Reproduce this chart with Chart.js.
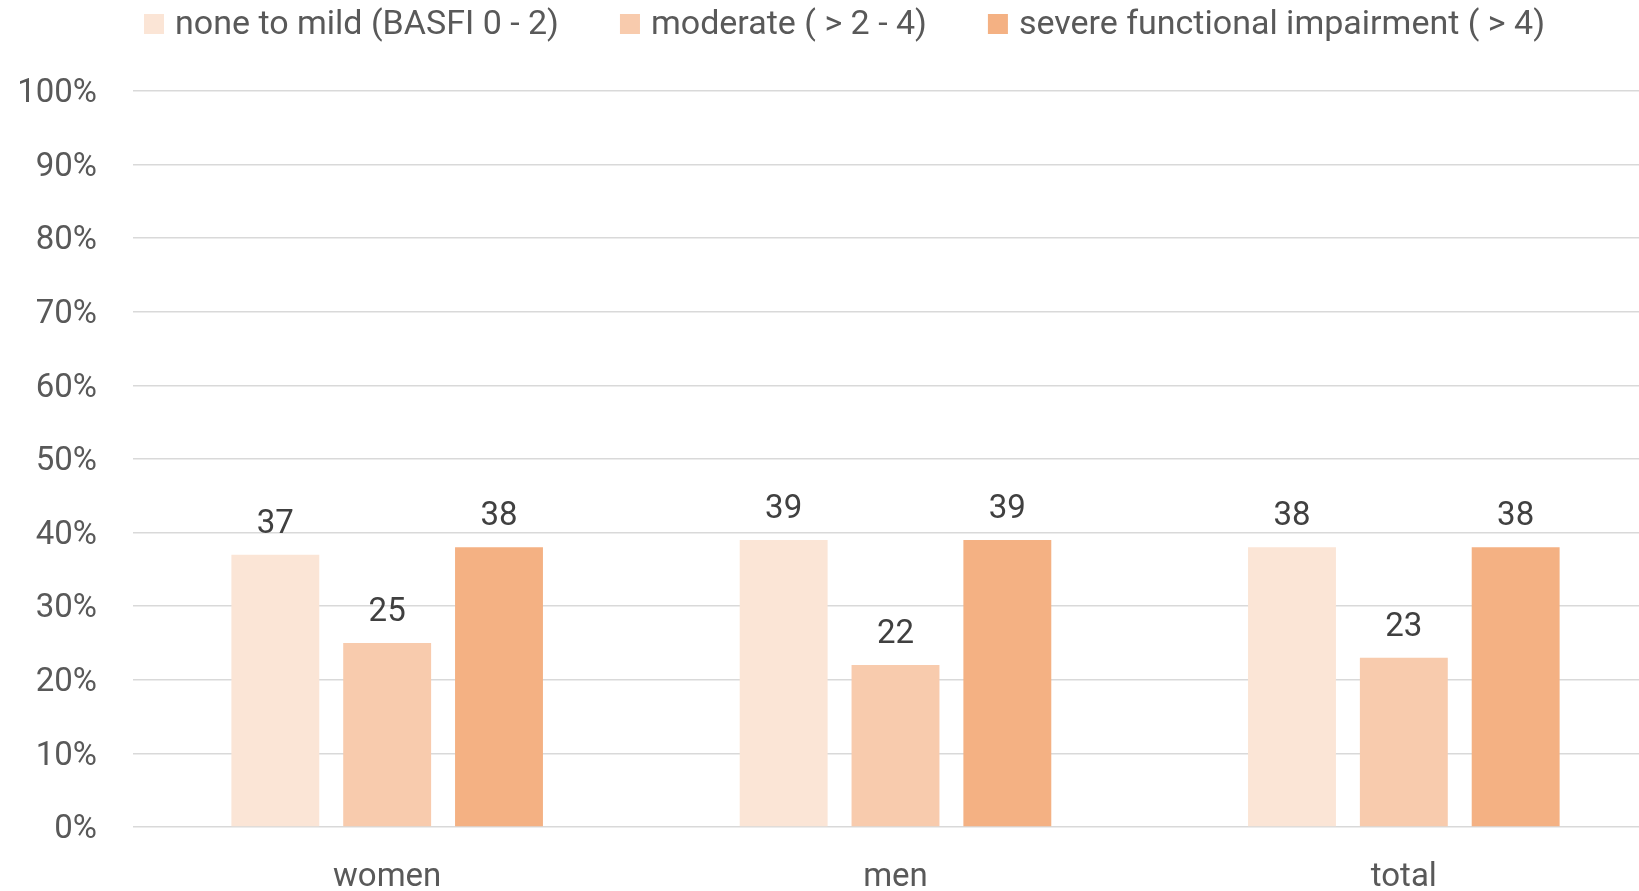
<!DOCTYPE html>
<html>
<head>
<meta charset="utf-8">
<script src="https://cdn.jsdelivr.net/npm/chart.js@4/dist/chart.umd.min.js"></script>
<style>
  html, body { margin: 0; padding: 0; background: #fff; overflow: hidden; }
  /* the plot runs a little past the right edge of the window */
  #holder { width: 1658px; height: 891px; position: relative; }
</style>
</head>
<body>
<div id="holder"><canvas id="chart-area-1"></canvas></div>
<script>

var groups      = ["women", "men", "total"];
var series      = ["none to mild (BASFI 0 - 2)", "moderate ( > 2 - 4)", "severe functional impairment ( > 4)"];
var noneToMild  = [37, 39, 38];
var moderate    = [25, 22, 23];
var severe      = [38, 39, 38];
var barColors   = ["#FBE5D6", "#F8CBAD", "#F4B183"];

var FONT = "Roboto, 'Open Sans', sans-serif";
var FONT_SIZE = 33;


// legend row across the top, drawn from the datasets
var topLegend = {
    id: 'topLegend',
    afterDraw: function(chart) {
        var ctx = chart.ctx;
        var x = 144;
        var y = 24;
        ctx.save();
        ctx.font = "34px " + FONT;
        ctx.textBaseline = 'middle';
        ctx.textAlign = 'left';
        chart.data.datasets.forEach(function(ds) {
            ctx.fillStyle = ds.backgroundColor;
            ctx.fillRect(x, y - 10, 20, 20);
            ctx.fillStyle = '#595959';
            ctx.fillText(ds.label, x + 31, y + 1);
            x += 31 + ctx.measureText(ds.label).width + 61;
        });
        ctx.restore();
    }
};

// value above each bar
var barValues = {
    id: 'barValues',
    afterDatasetsDraw: function(chart) {
        var ctx = chart.ctx;
        ctx.save();
        ctx.font = FONT_SIZE + "px " + FONT;
        ctx.fillStyle = '#404040';
        ctx.textAlign = 'center';
        ctx.textBaseline = 'alphabetic';
        chart.data.datasets.forEach(function(ds, i) {
            var meta = chart.getDatasetMeta(i);
            meta.data.forEach(function(bar, j) {
                ctx.fillText(ds.data[j], bar.x, bar.y - 22);
            });
        });
        ctx.restore();
    }
};


function create_chart() {

    var datasets = [noneToMild, moderate, severe].map(function(values, i) {
        return {
            label: series[i],
            data: values,
            backgroundColor: barColors[i],
            borderWidth: 0,
            categoryPercentage: 0.66,
            barPercentage: 0.786
        };
    });

    var ctx = document.getElementById("chart-area-1").getContext("2d");
    window.myBar = new Chart(ctx, {
        type: 'bar',
        data: {
            labels: groups,
            datasets: datasets
        },
        options: {
            responsive: true,
            maintainAspectRatio: false,
            animation: false,
            layout: {
                padding: { top: 91, left: 17, right: 0, bottom: 0 }
            },
            plugins: {
                legend: { display: false },
                tooltip: { enabled: false }
            },
            scales: {
                x: {
                    grid: { display: false },
                    border: { display: false },
                    ticks: {
                        color: '#595959',
                        padding: 26,
                        font: { family: FONT, size: FONT_SIZE, lineHeight: 1 }
                    },
                    afterFit: function(scale) { scale.height = 64; }
                },
                y: {
                    min: 0,
                    max: 100,
                    grid: {
                        color: '#D9D9D9',
                        lineWidth: 1.5,
                        drawTicks: false
                    },
                    border: { display: false },
                    ticks: {
                        stepSize: 10,
                        color: '#595959',
                        padding: 36,
                        labelOffset: 3,
                        font: { family: FONT, size: FONT_SIZE },
                        callback: function(v) { return v + '%'; }
                    },
                    afterFit: function(scale) { scale.width = 116; }
                }
            }
        },
        plugins: [topLegend, barValues]
    });
}

create_chart();
</script>
</body>
</html>
